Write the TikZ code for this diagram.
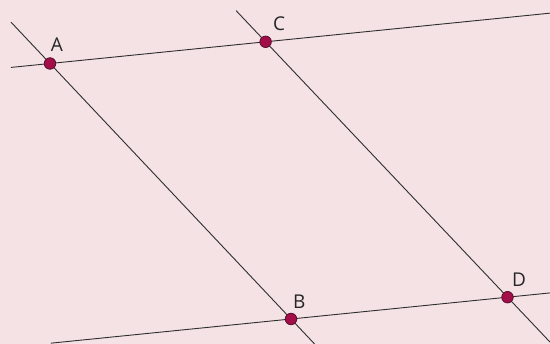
\documentclass[tikz,border=0pt]{standalone}
\usepackage{fontspec}
\setmainfont{Open Sans}
\usetikzlibrary{calc}
\definecolor{bgpink}{HTML}{F4E2E5}
\definecolor{dotfill}{HTML}{A30D48}
\definecolor{dotline}{HTML}{5A1030}
\definecolor{linegrey}{HTML}{2E2E2E}
\tikzset{
  geoline/.style={draw=linegrey, line width=0.9pt},
  ptdot/.style={circle, fill=dotfill, draw=dotline, line width=0.8pt, minimum size=11.5pt, inner sep=0pt},
  ptlabel/.style={text=black!85, font=\fontsize{19}{19}\selectfont, inner sep=0pt}
}
\begin{document}
\begin{tikzpicture}[x=1pt,y=-1pt]
\fill[bgpink] (0,0) rectangle (550,344);
\useasboundingbox (0,0) rectangle (550,344);
\clip (0,0) rectangle (550,344);
\coordinate (A) at (50,63.5);
\coordinate (C) at (265.6,41.8);
\coordinate (B) at (291,319);
\coordinate (D) at (507.5,297.2);
% lines
\draw[geoline] ($(A)!-0.181!(C)$) -- ($(A)!2.32!(C)$);
\draw[geoline] ($(A)!-0.162!(B)$) -- ($(A)!1.10!(B)$);
\draw[geoline] ($(C)!-0.122!(D)$) -- ($(C)!1.19!(D)$);
\draw[geoline] ($(B)!-1.109!(D)$) -- ($(B)!1.20!(D)$);
% dots
\node[ptdot] (dA) at (A) {};
\node[ptdot] (dB) at (B) {};
\node[ptdot] (dC) at (C) {};
\node[ptdot] (dD) at (D) {};
% labels
\node[ptlabel] (lA) at ($(A)+(7,-19)$) {A};
\node[ptlabel] (lC) at ($(C)+(13.4,-18)$) {C};
\node[ptlabel] (lB) at ($(B)+(8.3,-17)$) {B};
\node[ptlabel] (lD) at ($(D)+(11.5,-17.3)$) {D};
\end{tikzpicture}
\end{document}
